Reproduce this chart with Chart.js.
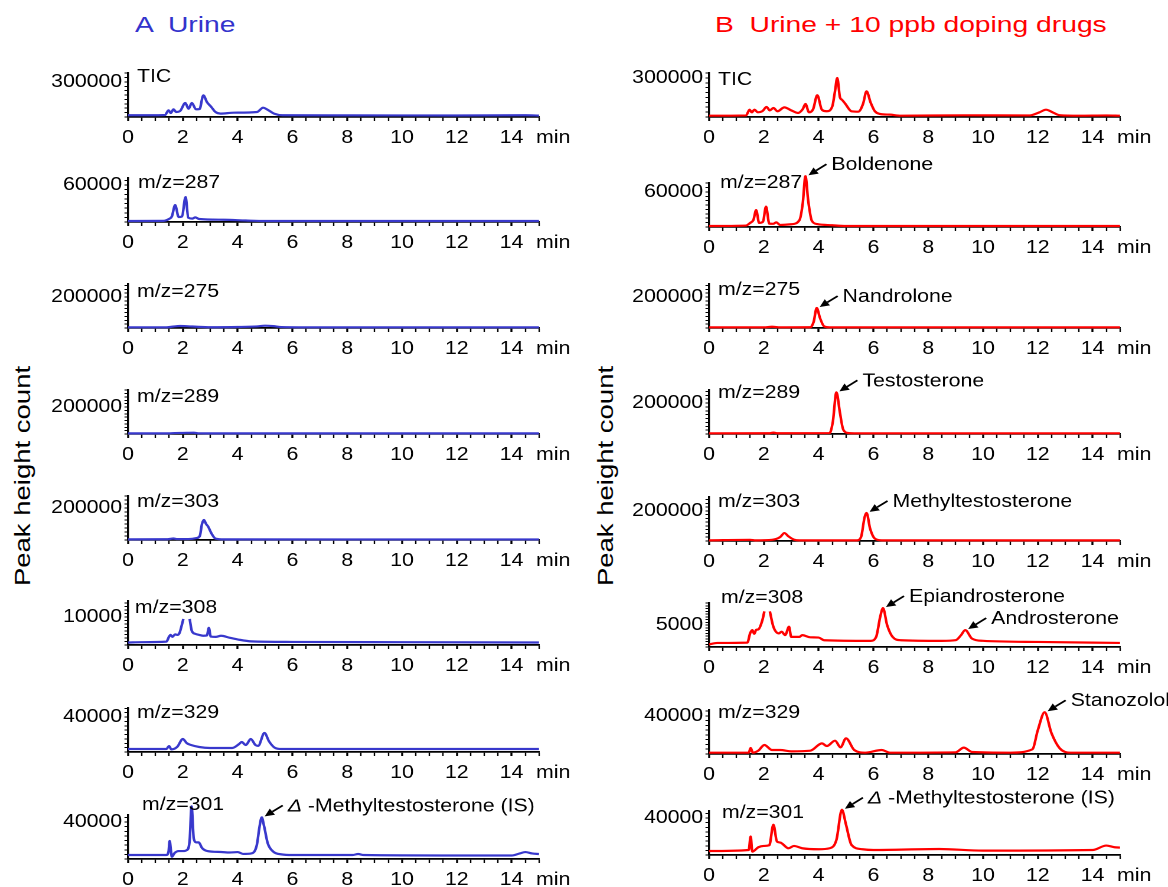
<!DOCTYPE html>
<html>
<head>
<meta charset="utf-8">
<script src="https://cdn.jsdelivr.net/npm/chart.js@4.4.1/dist/chart.umd.min.js"></script>
<style>
  html, body { margin: 0; padding: 0; background: #fff; }
  body { width: 1168px; height: 887px; position: relative; overflow: hidden; font-family: "Liberation Sans", Arial, sans-serif; }
  .title { position: absolute; top: 12px; font-size: 22.6px; line-height: 26px; white-space: pre; transform: scaleX(1.25); transform-origin: 0 0; }
  .ylab-anchor { position: absolute; width: 0; height: 0; }
  .ylab { position: absolute; font-size: 22px; white-space: nowrap; transform: translate(-50%, -50%) rotate(-90deg) scaleX(1.25); }
</style>
</head>
<body>
<div class="title" style="left:135px;color:#3333cc">A  Urine</div>
<div class="title" style="left:715px;color:#ff0000">B  Urine + 10 ppb doping drugs</div>
<div class="ylab-anchor" style="left:23px;top:476px"><div class="ylab">Peak height count</div></div>
<div class="ylab-anchor" style="left:606px;top:476px"><div class="ylab">Peak height count</div></div>

<script>
// Chromatograms: urine blank (A) vs. urine spiked with 10 ppb doping drugs (B)

const PANEL_W = 497;              // internal canvas width
const PANEL_W_CSS = 587;          // shown width; the figure's lettering is wide, so panels are stretched
const STRETCH = PANEL_W_CSS / PANEL_W;
const FONT = '"Liberation Sans", Arial, sans-serif';
const FONT_SIZE = 18;

const traceTags = ['TIC', 'm/z=287', 'm/z=275', 'm/z=289', 'm/z=303', 'm/z=308', 'm/z=329', 'm/z=301'];
const xMajor = [0, 2, 4, 6, 8, 10, 12, 14];

// y axis: the one labelled value and the top of each axis
const urineTickValue  = [300000, 60000, 200000, 200000, 200000, 10000, 40000, 40000];
const urineAxisMax    = [377000, 71400, 284000, 326000, 275000, 15700, 50300, 47600];
const spikedTickValue = [300000, 60000, 200000, 200000, 200000, 5000, 40000, 40000];
const spikedAxisMax   = [338000, 75400, 284000, 284000, 293000, 10000, 46300, 47600];

// [time (min), peak height count]
const urineTic = [[0, 15000], [1.0, 15000], [1.35, 17000], [1.48, 57000], [1.56, 34000], [1.66, 66000], [1.76, 43000],
  [1.9, 51000], [2.09, 120000], [2.21, 71000], [2.33, 120000], [2.48, 66000], [2.61, 68000], [2.75, 186000],
  [2.88, 128000], [3.04, 86000], [3.19, 43000], [3.38, 29000], [3.86, 37000], [4.71, 43000], [4.93, 80000],
  [5.09, 63000], [5.33, 29000], [5.64, 15000], [8, 14000], [12, 13000], [14.5, 15000], [15, 12000]];
const urine287 = [[0, 1600], [1.3, 1800], [1.5, 5000], [1.6, 9000], [1.72, 27500], [1.85, 8000], [1.97, 9000],
  [2.1, 40500], [2.2, 7000], [2.35, 5500], [2.45, 7500], [2.6, 4900], [3.5, 3700], [4.3, 2400], [5, 1600], [15, 1600]];
const urine275 = [[0, 4500], [1.4, 4500], [1.6, 8000], [1.9, 13000], [2.2, 11000], [2.5, 8000], [3, 5000], [4, 6500],
  [4.7, 10000], [5, 15000], [5.3, 12000], [5.6, 6000], [6.5, 4500], [15, 4500]];
const urine289 = [[0, 4400], [1.5, 4600], [1.7, 7000], [2.0, 8000], [2.4, 9500], [2.6, 5000], [3, 4400], [15, 4400]];
const urine303 = [[0, 4000], [1.4, 4500], [1.55, 7000], [1.65, 9500], [1.8, 6000], [2.2, 6000], [2.5, 12000],
  [2.62, 25000], [2.7, 100000], [2.77, 125000], [2.85, 100000], [2.92, 85000], [3.05, 40000], [3.2, 8000],
  [3.5, 4000], [15, 3500]];
const urine308 = [[0, 900], [0.5, 1000], [1.4, 1200], [1.5, 3000], [1.55, 3600], [1.62, 2900], [1.72, 3800],
  [1.8, 3600], [1.88, 4300], [1.96, 7000], [2.02, 9300], [2.13, null], [2.25, 9300], [2.33, 5000], [2.45, 4000],
  [2.6, 3600], [2.75, 3300], [2.88, 3400], [2.95, 6100], [3.02, 3000], [3.2, 2900], [3.4, 3300], [3.7, 2600],
  [4.0, 2000], [4.5, 1300], [6, 1100], [10, 1000], [15, 900]];
const urine329 = [[0, 3400], [1.4, 3400], [1.5, 6800], [1.58, 3000], [1.8, 6000], [2.0, 14900], [2.15, 10000],
  [2.3, 8000], [2.6, 5700], [3.0, 4600], [3.8, 4600], [4.05, 9000], [4.15, 11400], [4.3, 8000], [4.48, 14900],
  [4.65, 8000], [4.75, 7000], [4.98, 21700], [5.15, 12000], [5.35, 5000], [5.6, 3400], [15, 3400]];
const urine301 = [[0, 4300], [1.4, 4300], [1.48, 8000], [1.52, 19500], [1.57, 8000], [1.6, 2500], [1.7, 6500],
  [1.85, 8600], [2.0, 8600], [2.15, 9700], [2.25, 20000], [2.32, 57000], [2.4, 22000], [2.5, 18000], [2.58, 18000],
  [2.7, 12000], [2.9, 8600], [3.4, 7600], [3.7, 7000], [4.0, 7500], [4.2, 5500], [4.5, 6000], [4.7, 15000],
  [4.8, 35000], [4.88, 45000], [4.97, 35000], [5.1, 17000], [5.3, 8000], [5.6, 5000], [6, 4300], [8.2, 4300],
  [8.4, 5400], [8.6, 4300], [12, 3800], [14, 3800], [14.3, 6000], [14.5, 7500], [14.75, 6000], [15, 5400]];

const spikedTic = [[0, 10000], [1.35, 12000], [1.48, 56000], [1.56, 36000], [1.66, 56000], [1.78, 36000],
  [1.95, 45000], [2.1, 77000], [2.22, 51000], [2.35, 69000], [2.5, 44000], [2.75, 74000], [3.0, 51000],
  [3.25, 31000], [3.42, 60000], [3.52, 100000], [3.65, 36000], [3.8, 60000], [3.95, 167000], [4.12, 56000],
  [4.3, 44000], [4.5, 82000], [4.6, 200000], [4.68, 300000], [4.78, 150000], [4.85, 133000], [4.97, 103000],
  [5.2, 44000], [5.45, 41000], [5.62, 100000], [5.75, 197000], [5.9, 110000], [6.05, 45000], [6.25, 23000],
  [6.6, 18000], [7, 10000], [9.3, 13000], [11.7, 12000], [12.05, 35000], [12.3, 56000], [12.55, 35000],
  [12.8, 14000], [13.5, 10000], [14.5, 12000], [15, 10000]];
const spiked287 = [[0, 1750], [1.35, 2500], [1.5, 7000], [1.62, 12000], [1.72, 29000], [1.83, 7000], [1.97, 9000],
  [2.08, 35000], [2.2, 5800], [2.35, 5500], [2.45, 8000], [2.6, 3500], [3.0, 4700], [3.3, 11700], [3.42, 40000],
  [3.52, 87000], [3.62, 45000], [3.75, 11000], [3.95, 5000], [4.5, 3000], [5, 1750], [15, 1750]];
const spiked275 = [[0, 4300], [2.0, 4300], [2.3, 8000], [2.6, 4300], [3.7, 5000], [3.82, 40000], [3.93, 129000],
  [4.05, 65000], [4.2, 11000], [4.4, 4300], [15, 4300]];
const spiked289 = [[0, 4300], [2.2, 5000], [2.35, 9000], [2.5, 5000], [4.4, 6000], [4.52, 80000], [4.65, 269000],
  [4.78, 135000], [4.9, 28000], [5.1, 6000], [5.3, 4300], [15, 4300]];
const spiked303 = [[0, 4400], [1.5, 8000], [1.7, 4400], [2.3, 8000], [2.6, 26700], [2.75, 53000], [2.9, 31000],
  [3.1, 9000], [3.3, 4400], [5.4, 4400], [5.55, 27000], [5.68, 160000], [5.75, 187000], [5.88, 82000],
  [6.05, 16000], [6.3, 4400], [15, 4400]];
const spiked308 = [[0, 600], [0.3, 920], [1.4, 1000], [1.5, 3100], [1.58, 3850], [1.65, 3000], [1.72, 3900],
  [1.8, 4000], [1.95, 6150], [2.02, 8100], [2.12, null], [2.22, 8100], [2.35, 4600], [2.55, 3100], [2.65, 3460],
  [2.78, 2700], [2.92, 4600], [3.0, 2300], [3.3, 2300], [3.4, 2700], [3.7, 2200], [4.0, 2150], [4.2, 1540],
  [5.9, 1400], [6.1, 2300], [6.25, 6900], [6.35, 8850], [6.5, 5000], [6.7, 2300], [7.0, 1540], [8.5, 1400],
  [9.0, 1540], [9.2, 2700], [9.35, 3850], [9.6, 1900], [10, 1400], [12, 1150], [15, 920]];
const spiked329 = [[0, 1400], [1.45, 1400], [1.52, 6300], [1.6, 1400], [1.8, 3500], [2.02, 9500], [2.3, 4200],
  [2.6, 4200], [3.0, 2800], [3.7, 3500], [4.12, 11200], [4.3, 8400], [4.6, 14000], [4.8, 7000], [5.0, 16500],
  [5.3, 4200], [5.7, 1400], [6.3, 4200], [6.6, 1400], [9.0, 1800], [9.3, 6700], [9.6, 2100], [11, 1400],
  [11.8, 4900], [12.0, 25000], [12.25, 43900], [12.5, 21800], [12.8, 6000], [13.2, 1400], [15, 1400]];
const spiked301 = [[0, 4300], [1.45, 5400], [1.52, 20000], [1.58, 3600], [1.8, 8400], [2.0, 9800], [2.2, 10500],
  [2.35, 32800], [2.48, 14500], [2.6, 13500], [2.9, 7300], [3.1, 9800], [3.4, 7300], [4.0, 6200], [4.4, 7300],
  [4.65, 16400], [4.85, 49000], [5.0, 32800], [5.2, 10900], [5.6, 6200], [6, 5400], [8.4, 6500], [10, 4700],
  [14, 5400], [14.5, 10200], [14.8, 8400], [15, 8000]];

const urineTraces  = [urineTic, urine287, urine275, urine289, urine303, urine308, urine329, urine301];
const spikedTraces = [spikedTic, spiked287, spiked275, spiked289, spiked303, spiked308, spiked329, spiked301];

// labelled peaks: [name, time, height]
const urinePeaks = [[], [], [], [], [], [], [], [['IS', 4.88, 45000]]];
const spikedPeaks = [[], [['Boldenone', 3.52, 87000]], [['Nandrolone', 3.93, 129000]], [['Testosterone', 4.65, 269000]],
  [['Methyltestosterone', 5.75, 187000]], [['Epiandrosterone', 6.35, 8850], ['Androsterone', 9.35, 3850]],
  [['Stanozolol', 12.25, 43900]], [['IS', 4.85, 49000]]];

// layout (CSS px)
const urineBase  = [117, 222, 328, 434, 540, 645, 752, 859];
const spikedBase = [117, 227, 328, 434, 541, 647, 754, 855];
const urineTagPos  = [[9, 40], [10, 39], [9, 36], [9, 37], [9, 38], [7, 37], [9, 39], [14, 54]];
const spikedTagPos = [[9, 37], [11, 44], [9, 38], [9, 41], [9, 39], [12, 49], [9, 41], [13, 42]];

const PANEL_H = 104;
const AXIS_TOP = 31;
const AXIS_BOTTOM = 75;
const AREA_LEFT = 128 / STRETCH;
const AREA_RIGHT = 539 / STRETCH;

function drawArrow(ctx, tx, ty, fx, fy) {
  const dx = tx - fx, dy = ty - fy;
  const len = Math.hypot(dx, dy);
  const ux = dx / len, uy = dy / len;
  const head = 8, half = 3.8;
  const bx = tx - ux * head, by = ty - uy * head;
  ctx.beginPath();
  ctx.moveTo(fx, fy);
  ctx.lineTo(bx, by);
  ctx.stroke();
  ctx.beginPath();
  ctx.moveTo(tx, ty);
  ctx.lineTo(bx - uy * half, by + ux * half);
  ctx.lineTo(bx + uy * half, by - ux * half);
  ctx.closePath();
  ctx.fill();
}

function overlay(tag, tagPos, peaks) {
  return {
    id: 'overlay',
    afterDatasetsDraw(chart) {
      const { ctx, chartArea, scales } = chart;
      ctx.save();
      ctx.fillStyle = '#000';
      ctx.strokeStyle = '#000';
      ctx.lineWidth = 1.7;
      ctx.textBaseline = 'middle';
      ctx.textAlign = 'left';
      ctx.font = `${FONT_SIZE}px ${FONT}`;
      ctx.fillText(tag, chartArea.left + tagPos[0] / STRETCH, chartArea.bottom - tagPos[1]);
      ctx.fillText('min', chartArea.right - 3 / STRETCH, chartArea.bottom + 21);

      peaks.forEach(([name, t, v]) => {
        const tx = scales.x.getPixelForValue(t) + 3 / STRETCH;
        const ty = scales.y.getPixelForValue(v) - 1;
        const fx = tx + 18 / STRETCH;
        const fy = ty - 11;
        drawArrow(ctx, tx, ty, fx, fy);
        const lx = fx + 5 / STRETCH;
        if (name === 'IS') {
          ctx.font = `italic ${FONT_SIZE}px ${FONT}`;
          ctx.fillText('Δ', lx, fy + 1);
          const w = ctx.measureText('Δ').width;
          ctx.font = `${FONT_SIZE}px ${FONT}`;
          ctx.fillText(' -Methyltestosterone (IS)', lx + w, fy + 1);
        } else {
          ctx.fillText(name, lx, fy + 1);
        }
      });
      ctx.restore();
    }
  };
}

function makePanel(colLeft, base, points, color, tickValue, axisMax, tag, tagPos, peaks) {
  const canvas = document.createElement('canvas');
  canvas.width = PANEL_W;
  canvas.height = PANEL_H;
  canvas.style.position = 'absolute';
  canvas.style.left = colLeft + 'px';
  canvas.style.top = (base - AXIS_BOTTOM) + 'px';
  canvas.style.width = PANEL_W_CSS + 'px';
  canvas.style.height = PANEL_H + 'px';
  document.body.appendChild(canvas);

  const yStep = tickValue / 8;

  new Chart(canvas, {
    type: 'line',
    data: {
      datasets: [{
        data: points,
        borderColor: color,
        borderWidth: 2.2,
        borderJoinStyle: 'round',
        pointRadius: 0,
        fill: false,
        cubicInterpolationMode: 'monotone',
        spanGaps: false,
        clip: false
      }]
    },
    options: {
      responsive: false,
      animation: false,
      devicePixelRatio: 2,
      events: [],
      layout: { padding: { left: 0, right: PANEL_W - AREA_RIGHT, top: AXIS_TOP, bottom: 0 } },
      plugins: { legend: { display: false }, tooltip: { enabled: false } },
      scales: {
        x: {
          type: 'linear',
          min: 0,
          max: 15,
          afterFit: (s) => { s.height = PANEL_H - AXIS_BOTTOM; },
          afterBuildTicks: (s) => {
            const ticks = [];
            for (let i = 0; i <= 30; i++) ticks.push({ value: i * 0.5 });
            s.ticks = ticks;
          },
          border: { display: true, color: '#000', width: 1.7 },
          grid: {
            display: true,
            drawOnChartArea: false,
            drawTicks: true,
            tickLength: 4,
            tickColor: '#000',
            tickWidth: (c) => (c.tick && xMajor.includes(c.tick.value) ? 1.7 : 1.2)
          },
          ticks: {
            autoSkip: false,
            maxRotation: 0,
            padding: 6,
            color: '#000',
            font: { family: FONT, size: FONT_SIZE },
            callback: (v) => (xMajor.includes(v) ? String(v) : '')
          }
        },
        y: {
          type: 'linear',
          min: 0,
          max: axisMax,
          afterFit: (s) => { s.width = AREA_LEFT; },
          afterBuildTicks: (s) => {
            const ticks = [];
            for (let i = 0; i * yStep <= axisMax; i++) ticks.push({ value: i * yStep });
            s.ticks = ticks;
          },
          border: { display: true, color: '#000', width: 1.7 },
          grid: {
            display: true,
            drawOnChartArea: false,
            drawTicks: true,
            tickLength: 3,
            tickColor: '#000',
            tickWidth: 1
          },
          ticks: {
            autoSkip: false,
            padding: 2,
            color: '#000',
            font: { family: FONT, size: FONT_SIZE },
            callback: (v) => (v === tickValue ? String(tickValue) : '')
          }
        }
      }
    },
    plugins: [overlay(tag, tagPos, peaks)]
  });
}

urineTraces.forEach((pts, i) => {
  makePanel(0, urineBase[i], pts, '#3838cc', urineTickValue[i], urineAxisMax[i],
    traceTags[i], urineTagPos[i], urinePeaks[i]);
});
spikedTraces.forEach((pts, i) => {
  makePanel(581, spikedBase[i], pts, '#ff0000', spikedTickValue[i], spikedAxisMax[i],
    traceTags[i], spikedTagPos[i], spikedPeaks[i]);
});
</script>
</body>
</html>
